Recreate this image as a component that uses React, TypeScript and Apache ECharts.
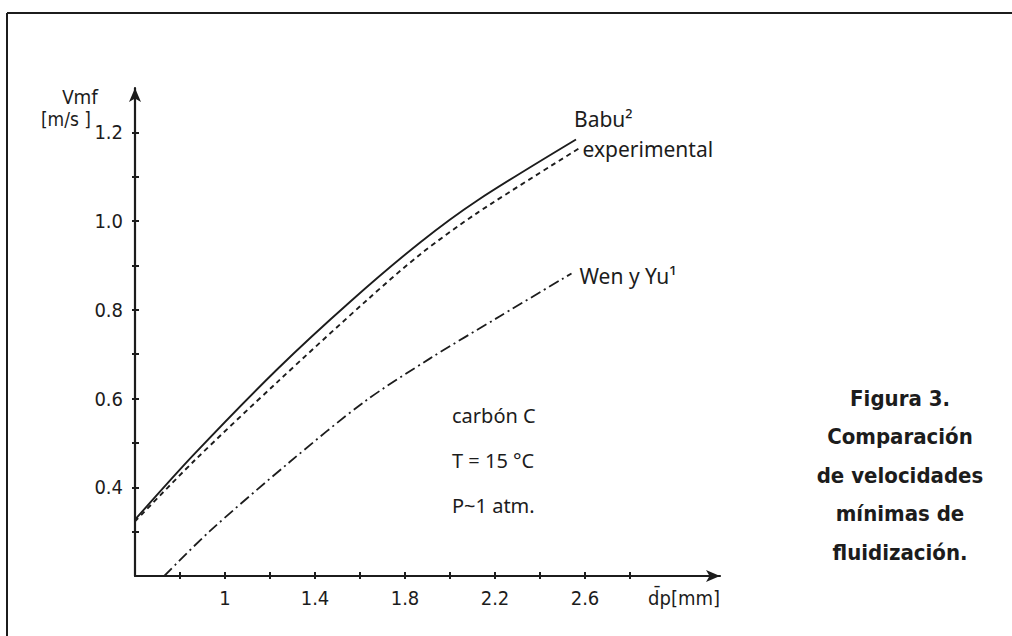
import React, { useEffect, useRef } from "react";
import * as echarts from "echarts";

// Data (dp in mm, Vmf in m/s)
const babuX = [0.6, 0.86, 1.23, 1.56, 1.87, 2.12, 2.56];
const babuY = [0.327, 0.473, 0.665, 0.82, 0.953, 1.046, 1.184];
const expX = [0.6, 0.86, 1.23, 1.64, 1.87, 2.12, 2.58];
const expY = [0.323, 0.458, 0.636, 0.826, 0.926, 1.018, 1.166];
const wenX = [0.73, 0.93, 1.29, 1.62, 1.91, 2.22, 2.54];
const wenY = [0.2, 0.3, 0.458, 0.593, 0.69, 0.785, 0.882];

const xTicks = [0.8, 1.0, 1.2, 1.4, 1.6, 1.8, 2.0, 2.2, 2.4, 2.6, 2.8];
const xLabels = [1, 1.4, 1.8, 2.2, 2.6];
const yTicks = [0.3, 0.4, 0.5, 0.6, 0.7, 0.8, 0.9, 1.0, 1.1, 1.2];
const yLabels = [0.4, 0.6, 0.8, 1.0, 1.2];

const seriesNames = ["Babu²", "experimental", "Wen y Yu¹"];
const conditions = ["carbón C", "T = 15 °C", "P~1 atm."];
const captionLines = ["Figura 3.", "Comparación", "de velocidades", "mínimas de", "fluidización."];

const INK = "#1c1c1c";
const TICK_FONT = "'Liberation Sans Narrow','DejaVu Sans Condensed',sans-serif";
const TEXT_FONT = "'Noto Sans','DejaVu Sans',sans-serif";

const zip = (xs: number[], ys: number[]) => xs.map((x, i) => [x, ys[i]]);

export default function App() {
  const ref = useRef<HTMLDivElement>(null);
  useEffect(() => {
    if (!ref.current) return;
    const chart = echarts.init(ref.current, undefined, { renderer: "svg" });
    const tickLabel = {
      color: INK,
      fontFamily: TICK_FONT,
      fontSize: 20,
    };
    const option: any = {
      animation: false,
      backgroundColor: "#ffffff",
      grid: { left: 135, right: 292, top: 88, bottom: 60, containLabel: false },
      xAxis: [
        {
          type: "value",
          min: 0.6,
          max: 3.2,
          position: "bottom",
          splitLine: { show: false },
          axisLine: {
            show: true,
            symbol: ["none", "arrow"],
            symbolSize: [9, 14],
            lineStyle: { color: INK, width: 2.2 },
          },
          axisTick: {
            show: true,
            inside: true,
            length: 4,
            customValues: xTicks,
            lineStyle: { color: INK, width: 2 },
          },
          axisLabel: {
            ...tickLabel,
            margin: 12,
            customValues: xLabels,
            formatter: (v: number) => String(Math.round(v * 10) / 10),
          },
          name: "d\u0304p[mm]",
          nameLocation: "end",
          nameGap: 0,
          nameTextStyle: {
            ...tickLabel,
            align: "right",
            verticalAlign: "top",
            padding: [12, 0, 0, 0],
          },
        },
        {
          type: "value",
          min: 0.6,
          max: 3.2,
          position: "bottom",
          splitLine: { show: false },
          axisLine: { show: false },
          axisTick: {
            show: true,
            inside: false,
            length: 3,
            customValues: xTicks,
            lineStyle: { color: INK, width: 2 },
          },
          axisLabel: { show: false },
        },
      ],
      yAxis: [
        {
          type: "value",
          min: 0.2,
          max: 1.3,
          splitLine: { show: false },
          axisLine: {
            show: true,
            symbol: ["none", "arrow"],
            symbolSize: [9, 14],
            lineStyle: { color: INK, width: 2.2 },
          },
          axisTick: {
            show: true,
            inside: true,
            length: 4,
            customValues: yTicks,
            lineStyle: { color: INK, width: 2 },
          },
          axisLabel: {
            ...tickLabel,
            margin: 12,
            customValues: yLabels,
            formatter: (v: number) => v.toFixed(1),
          },
        },
        {
          type: "value",
          min: 0.2,
          max: 1.3,
          position: "left",
          splitLine: { show: false },
          axisLine: { show: false },
          axisTick: {
            show: true,
            inside: false,
            length: 3,
            customValues: yTicks,
            lineStyle: { color: INK, width: 2 },
          },
          axisLabel: { show: false },
        },
      ],
      series: [
        {
          name: seriesNames[0],
          type: "line",
          data: zip(babuX, babuY),
          smooth: 0.3,
          showSymbol: false,
          lineStyle: { color: INK, width: 1.9, type: "solid" },
          endLabel: {
            show: true,
            formatter: seriesNames[0],
            color: INK,
            fontFamily: TEXT_FONT,
            fontSize: 21,
            lineHeight: 21,
            offset: [-10, -20],
          },
        },
        {
          name: seriesNames[1],
          type: "line",
          data: zip(expX, expY),
          smooth: 0.3,
          showSymbol: false,
          lineStyle: { color: INK, width: 1.9, type: [5, 4] },
          endLabel: {
            show: true,
            formatter: seriesNames[1],
            color: INK,
            fontFamily: TEXT_FONT,
            fontSize: 21,
            lineHeight: 21,
            distance: 2,
            offset: [0, 2],
          },
        },
        {
          name: seriesNames[2],
          type: "line",
          data: zip(wenX, wenY),
          smooth: 0.3,
          showSymbol: false,
          lineStyle: { color: INK, width: 1.8, type: [11, 4, 2, 4] },
          endLabel: {
            show: true,
            formatter: seriesNames[2],
            color: INK,
            fontFamily: TEXT_FONT,
            fontSize: 21,
            distance: 8,
            offset: [0, 3],
          },
        },
      ],
      graphic: [
        { type: "line", shape: { x1: 7, y1: 13, x2: 1012, y2: 13 }, style: { stroke: INK, lineWidth: 2 } },
        { type: "line", shape: { x1: 7, y1: 13, x2: 7, y2: 636 }, style: { stroke: INK, lineWidth: 2 } },
        {
          type: "text",
          x: 80,
          y: 97,
          style: { text: "Vmf", fill: INK, font: `19px ${TEXT_FONT}`, align: "center", verticalAlign: "middle" },
        },
        {
          type: "text",
          x: 66,
          y: 119,
          style: { text: "[m/s ]", fill: INK, font: `19px ${TICK_FONT}`, align: "center", verticalAlign: "middle" },
        },
        ...conditions.map((t, i) => ({
          type: "text",
          x: 452,
          y: 415 + i * 45,
          style: { text: t, fill: INK, font: `20px ${TEXT_FONT}`, align: "left", verticalAlign: "middle" },
        })),
        ...captionLines.map((t, i) => ({
          type: "text",
          x: 900,
          y: 398 + i * 38.5,
          style: {
            text: t,
            fill: INK,
            font: `bold 22px ${TICK_FONT}`,
            align: "center",
            verticalAlign: "middle",
          },
        })),
      ],
    };
    chart.setOption(option);
    return () => chart.dispose();
  }, []);
  return (
    <div
      ref={ref}
      style={{ position: "fixed", left: 0, top: 0, width: 1012, height: 636, background: "#fff" }}
    />
  );
}
